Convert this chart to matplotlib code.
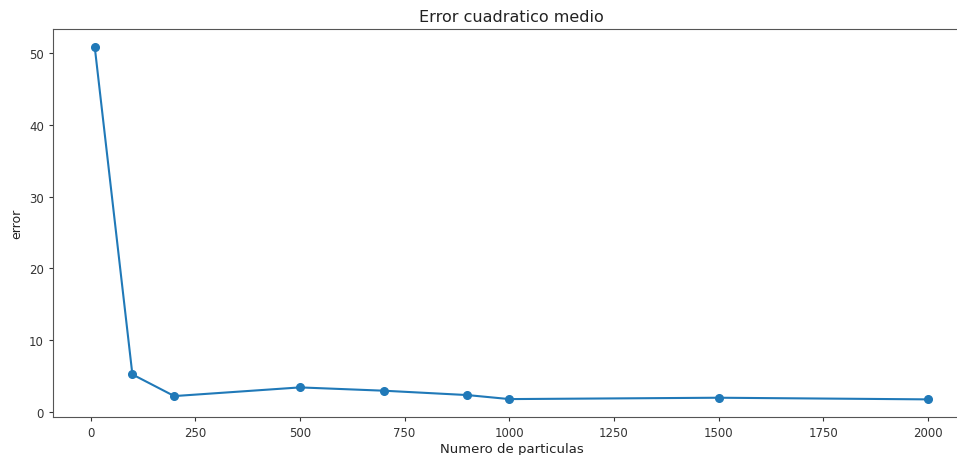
import matplotlib
matplotlib.use("Agg")
import matplotlib.pyplot as plt

# numero de particulas vs error cuadratico medio
particulas = [10, 100, 200, 500, 700, 900, 1000, 1500, 2000]
errores = [50.93, 5.2, 2.18, 3.39, 2.93, 2.32, 1.76, 1.95, 1.72]

fig = plt.figure(figsize=(9.57, 4.56), dpi=100)
# the original screenshot is cropped on the right, so the axes run past the edge
ax = fig.add_axes([0.0554, 0.0833, 0.958, 0.851])

ax.plot(particulas, errores, marker='o', color='#2079b8', linewidth=1.5, markersize=5.5)

ax.set_title('Error cuadratico medio', fontsize=11.5, color='#222222')
ax.set_xlabel('Numero de particulas', fontsize=9.5, color='#222222', labelpad=2)
ax.set_ylabel('error', fontsize=9, color='#222222')
ax.set_xticks([0, 250, 500, 750, 1000, 1250, 1500, 1750, 2000])
ax.set_yticks([0, 10, 20, 30, 40, 50])
ax.tick_params(labelsize=8.5, colors='#333333', length=3)
for s in ax.spines.values():
    s.set_color('#555555')

fig.savefig('out.png', dpi=100)
